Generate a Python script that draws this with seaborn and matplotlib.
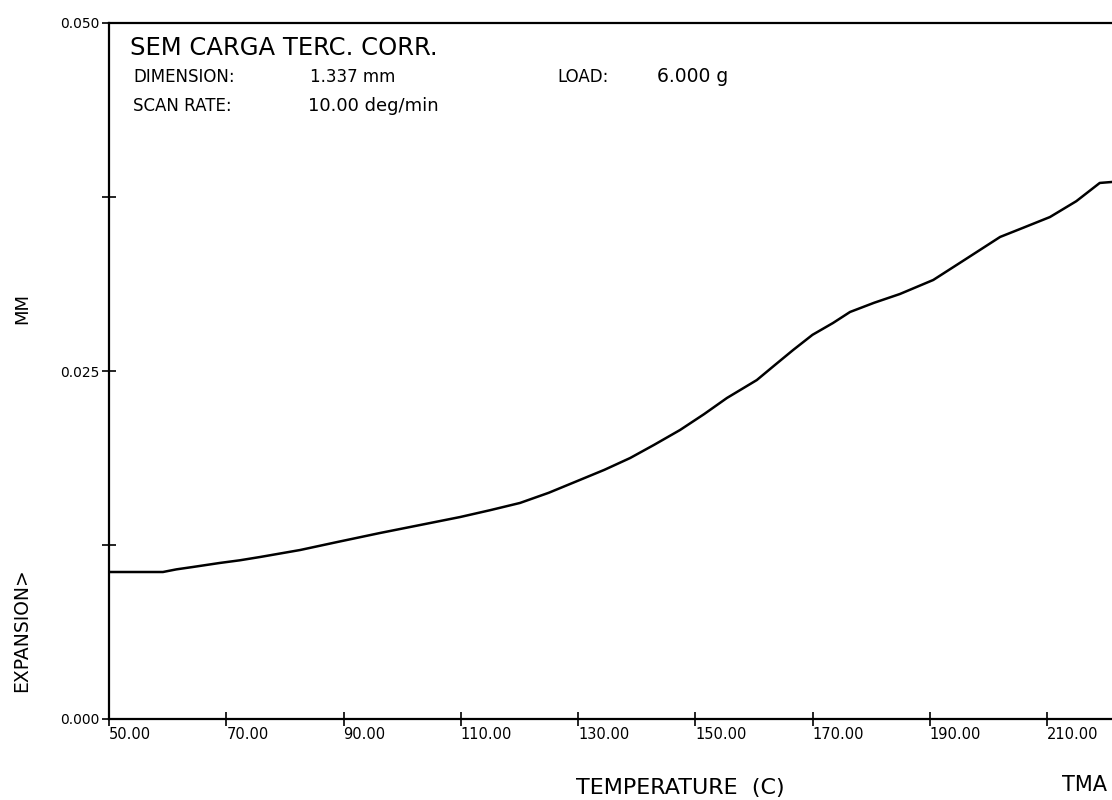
import numpy as np
import pandas as pd
import matplotlib
matplotlib.use("Agg")
import matplotlib.pyplot as plt
import seaborn as sns

# valores (TMA, expansao x temperatura)
temperatura = [50.0, 59.2, 61.5, 64.3, 68.9, 72.3, 75.8, 82.6, 89.0, 96.2, 103.0,
               109.9, 115.0, 120.1, 125.0, 130.3, 134.5, 138.9, 143.0, 147.4,
               151.5, 155.4, 160.5, 163.5, 166.7, 170.0, 173.5, 176.4, 180.5,
               184.9, 190.6, 196.0, 202.0, 206.0, 210.5, 215.0, 219.0, 221.1]
expansao = [0.01056, 0.01056, 0.01075, 0.01092, 0.01121, 0.01140, 0.01164,
            0.01214, 0.01272, 0.01336, 0.01393, 0.01451, 0.01500, 0.01552,
            0.01625, 0.01717, 0.01790, 0.01875, 0.01970, 0.02076, 0.02190,
            0.02306, 0.02435, 0.02540, 0.02651, 0.02760, 0.02845, 0.02924,
            0.02990, 0.03053, 0.03154, 0.03300, 0.03463, 0.03530, 0.03606,
            0.03720, 0.03851, 0.03858]

x_ticks = [50, 70, 90, 110, 130, 150, 170, 190, 210]
x_ticklabels = ["50.00", "70.00", "90.00", "110.00", "130.00", "150.00",
                "170.00", "190.00", "210.00"]
y_ticks = [0.0, 0.0125, 0.025, 0.0375, 0.05]
y_ticklabels = ["0.000", "", "0.025", "", "0.050"]

df = pd.DataFrame({"temp": temperatura, "exp": expansao})

sns.set_style("white")
plt.rcParams["font.family"] = ["DejaVu Sans"]
plt.rcParams["text.color"] = "black"

W, H = 1112, 800
fig = plt.figure(figsize=(W / 100, H / 100), dpi=100)
ax = fig.add_axes([109 / W, 1 - 719 / H, 1 - 109 / W, (719 - 23) / H])

sns.lineplot(data=df, x="temp", y="exp", color="black", linewidth=1.8, ax=ax)

ax.set_xlim(50, 50 + (W - 109) / 5.8625)
ax.set_ylim(0, 0.05)
ax.set_xticks(x_ticks)
ax.set_xticklabels(x_ticklabels, ha="left", fontsize=10.5)
ax.set_yticks(y_ticks)
ax.set_yticklabels(y_ticklabels, fontsize=10)
ax.tick_params(axis="both", direction="inout", length=10, width=1.2,
               color="black", labelcolor="black", bottom=True, left=True, pad=2)
ax.tick_params(axis="x", pad=1)
for lado in ["left", "bottom", "top"]:
    ax.spines[lado].set_visible(True)
    ax.spines[lado].set_color("black")
    ax.spines[lado].set_linewidth(1.6)
ax.spines["right"].set_visible(False)
ax.set_xlabel("")
ax.set_ylabel("")

def px(x, y):
    return x / W, 1 - y / H

fig.text(*px(130, 48), "SEM CARGA TERC. CORR.", fontsize=17.5, va="center")
fig.text(*px(133, 77), "DIMENSION:", fontsize=12, va="center")
fig.text(*px(310, 77), "1.337 mm", fontsize=12, va="center")
fig.text(*px(557, 77), "LOAD:", fontsize=12, va="center")
fig.text(*px(657, 77), "6.000 g", fontsize=13.5, va="center")
fig.text(*px(133, 106), "SCAN RATE:", fontsize=12, va="center")
fig.text(*px(308, 106), "10.00 deg/min", fontsize=13, va="center")

fig.text(*px(680, 788), "TEMPERATURE  (C)", fontsize=16, ha="center", va="center")
fig.text(*px(1084, 785), "TMA", fontsize=15, ha="center", va="center")
fig.text(*px(22, 308), "MM", fontsize=13, rotation=90, ha="center", va="center")
fig.text(*px(22, 630), "EXPANSION>", fontsize=13.5, rotation=90, ha="center", va="center")

fig.savefig("out.png", dpi=100)
